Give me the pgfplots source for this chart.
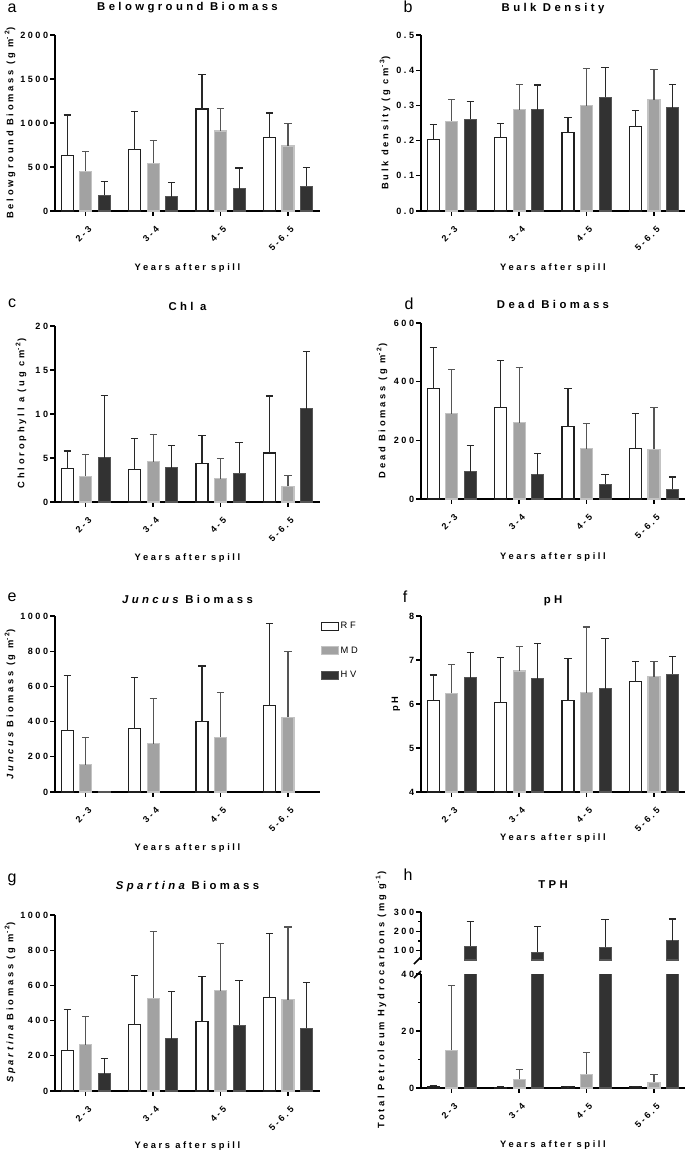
\documentclass[border=0pt]{standalone}
\usepackage{fontspec}
\setmainfont{Liberation Sans}
\newfontfamily\spf[LetterSpace=28]{Liberation Sans}
\newfontfamily\labf[LetterSpace=30]{Liberation Sans}
\newfontfamily\titf[LetterSpace=30]{Liberation Sans}
\usepackage{pgfplots}
\pgfplotsset{compat=1.18}
\definecolor{mdgray}{RGB}{162,162,162}
\definecolor{mdedge}{RGB}{195,195,195}
\definecolor{hvdark}{RGB}{50,50,50}
\definecolor{hvedge}{RGB}{85,85,85}
\definecolor{errc}{RGB}{40,40,40}
\definecolor{errmd}{RGB}{85,85,85}
\newcommand\tickfont{\spf\bfseries\fontsize{6.8}{8}\selectfont}
\newcommand\xtickfont{\spf\bfseries\fontsize{6.8}{8}\selectfont}
\newcommand\labfont{\labf\bfseries\fontsize{7}{8}\selectfont}
\newcommand\xlabfont{\spf\bfseries\fontsize{7}{8}\selectfont}
\newcommand\titfont{\titf\bfseries\fontsize{8.5}{10}\selectfont}
\newcommand\letfont{\fontsize{12}{14}\selectfont}
\newcommand\legfont{\spf\fontsize{7}{8}\selectfont}
\pgfplotsset{
  panel/.style={
    scale only axis, width=198.75pt, height=132pt,
    anchor=south west,
    xmin=-0.455, xmax=3.475, ymin=0,
    axis x line*=bottom, axis y line*=left,
    axis line style={-, line width=1.1pt, black},
    xtick={0,1,2,3}, xticklabels={2-3,3-4,4-5,5-6.5},
    tick align=outside,
    major tick length=3.5pt, minor tick length=2.2pt,
    every tick/.style={black, line width=1pt},
    xticklabel shift=7pt,
    xticklabel style={xshift=1.5pt, rotate=45, anchor=north east, font=\xtickfont, inner sep=0pt},
    yticklabel style={font=\tickfont, inner sep=1.5pt},
    /pgf/number format/assume math mode=true,
    /pgf/number format/1000 sep={},
    scaled y ticks=false,
    ybar, bar width=0.178,
  },
  errs/.style={error bars/y dir=plus, error bars/y explicit,
    error bars/error bar style={line width=0.8pt, draw=#1},
    error bars/error mark options={rotate=90, mark size=2.7pt, line width=0.8pt, draw=#1}},
  rf/.style={fill=white, draw=black!88, line width=0.8pt, bar shift=-0.275, errs=errc},
  md/.style={fill=mdgray, draw=mdedge, line width=0.8pt, bar shift=0, errs=errmd},
  hv/.style={fill=hvdark, draw=hvedge, line width=0.8pt, bar shift=0.275, errs=errc},
  hvn/.style={fill=hvdark, draw=hvedge, line width=0.8pt, bar shift=0.275},
}
\begin{document}
\begin{tikzpicture}
\useasboundingbox (0,0) rectangle (513.75pt,-865.5pt);

% ---------- a
\begin{axis}[panel, at={(55*0.75pt,-211*0.75pt)}, ymax=2000, ytick={0,500,1000,1500,2000}]
\addplot[rf] coordinates {(0,636) +- (0,455) (1,701) +- (0,432) (2,1159) +- (0,390) (3,837) +- (0,277)};
\addplot[md] coordinates {(0,451) +- (0,223) (1,542) +- (0,261) (2,909) +- (0,258) (3,739) +- (0,253)};
\addplot[hv] coordinates {(0,178) +- (0,155) (1,163) +- (0,163) (2,254) +- (0,235) (3,280) +- (0,212)};
\end{axis}
% ---------- b
\begin{axis}[panel, at={(421*0.75pt,-211*0.75pt)}, ymax=0.5, ytick={0,0.1,0.2,0.3,0.4,0.5}, yticklabels={0.0,0.1,0.2,0.3,0.4,0.5}]
\addplot[rf] coordinates {(0,0.204) +- (0,0.041) (1,0.208) +- (0,0.041) (2,0.222) +- (0,0.043) (3,0.240) +- (0,0.046)};
\addplot[md] coordinates {(0,0.255) +- (0,0.062) (1,0.288) +- (0,0.072) (2,0.299) +- (0,0.106) (3,0.316) +- (0,0.086)};
\addplot[hv] coordinates {(0,0.261) +- (0,0.051) (1,0.288) +- (0,0.070) (2,0.323) +- (0,0.084) (3,0.294) +- (0,0.066)};
\end{axis}
% ---------- c
\begin{axis}[panel, at={(55*0.75pt,-502*0.75pt)}, ymax=20, ytick={0,5,10,15,20}]
\addplot[rf] coordinates {(0,3.80) +- (0,2.00) (1,3.73) +- (0,3.46) (2,4.41) +- (0,3.16) (3,5.57) +- (0,6.48)};
\addplot[md] coordinates {(0,2.94) +- (0,2.45) (1,4.56) +- (0,3.09) (2,2.64) +- (0,2.26) (3,1.77) +- (0,1.28)};
\addplot[hv] coordinates {(0,5.05) +- (0,7.08) (1,3.88) +- (0,2.56) (2,3.28) +- (0,3.46) (3,10.62) +- (0,6.52)};
\end{axis}
% ---------- d
\begin{axis}[panel, at={(421*0.75pt,-499*0.75pt)}, ymax=600, ytick={0,200,400,600}]
\addplot[rf] coordinates {(0,377) +- (0,141) (1,311) +- (0,161) (2,247) +- (0,130) (3,172) +- (0,121)};
\addplot[md] coordinates {(0,291) +- (0,149) (1,260) +- (0,189) (2,172) +- (0,85) (3,170) +- (0,143)};
\addplot[hv] coordinates {(0,93) +- (0,91) (1,82) +- (0,73) (2,51) +- (0,34) (3,34) +- (0,41)};
\end{axis}
% ---------- e
\begin{axis}[panel, at={(55*0.75pt,-792*0.75pt)}, ymax=1000, ytick={0,200,400,600,800,1000},
  legend image code/.code={\draw[#1] (0pt,-3pt) rectangle (12.75pt,3pt);},
  legend style={at={(1.004,0.975)}, anchor=north west, draw=none, fill=none, font=\legfont,
    row sep=10.2pt, inner sep=0pt, nodes={inner sep=1pt}},
  legend cell align=left]
\addplot[rf] coordinates {(0,348) +- (0,313) (1,360) +- (0,288) (2,398) +- (0,318) (3,489) +- (0,466)};
\addplot[md] coordinates {(0,155) +- (0,157) (1,275) +- (0,257) (2,311) +- (0,253) (3,426) +- (0,375)};
\addplot[hvn] coordinates {(0,5)};
\legend{RF,MD,HV}
\end{axis}
% ---------- f
\begin{axis}[panel, at={(421*0.75pt,-792*0.75pt)}, ymin=4, ymax=8, ytick={4,5,6,7,8}]
\addplot[rf] coordinates {(0,6.09) +- (0,0.57) (1,6.04) +- (0,1.02) (2,6.08) +- (0,0.96) (3,6.51) +- (0,0.46)};
\addplot[md] coordinates {(0,6.24) +- (0,0.66) (1,6.75) +- (0,0.55) (2,6.26) +- (0,1.49) (3,6.62) +- (0,0.35)};
\addplot[hv] coordinates {(0,6.60) +- (0,0.57) (1,6.57) +- (0,0.81) (2,6.35) +- (0,1.14) (3,6.68) +- (0,0.40)};
\end{axis}
% ---------- g
\begin{axis}[panel, at={(55*0.75pt,-1091*0.75pt)}, ymax=1000, ytick={0,200,400,600,800,1000}]
\addplot[rf] coordinates {(0,232) +- (0,232) (1,377) +- (0,281) (2,396) +- (0,253) (3,530) +- (0,366)};
\addplot[md] coordinates {(0,264) +- (0,162) (1,528) +- (0,380) (2,570) +- (0,266) (3,519) +- (0,413)};
\addplot[hv] coordinates {(0,98) +- (0,87) (1,296) +- (0,272) (2,374) +- (0,256) (3,357) +- (0,258)};
\end{axis}
% ---------- h lower
\begin{axis}[panel, at={(421*0.75pt,-1088*0.75pt)}, height=85.5pt, ymax=40, ytick={0,20,40}, minor ytick={10,30}]
\addplot[rf] coordinates {(0,0.5) +- (0,0.3) (1,0.3) +- (0,0.1) (2,0.4) +- (0,0.1) (3,0.4) +- (0,0.2)};
\addplot[md] coordinates {(0,13.3) +- (0,22.7) (1,3.0) +- (0,3.4) (2,4.8) +- (0,7.7) (3,2.0) +- (0,2.6)};
\addplot[hvn] coordinates {(0,124) (1,91) (2,117) (3,152)};
\end{axis}
% ---------- h upper
\begin{axis}[panel, at={(421*0.75pt,-960*0.75pt)}, height=36pt, ymin=51.7, ymax=300,
  axis x line=none, ytick={100,200,300}, minor ytick={150,250}, xtick=\empty]
\addplot[hv] coordinates {(0,124) +- (0,126) (1,91) +- (0,133) (2,117) +- (0,145) (3,152) +- (0,112)};
\end{axis}
\draw[line width=1.1pt] (414*0.75pt,-964*0.75pt) -- (421*0.75pt,-957*0.75pt);
\draw[line width=1.1pt] (414*0.75pt,-978*0.75pt) -- (421*0.75pt,-971*0.75pt);

% ---------- titles
\node[font=\titfont] at (187.5*0.75pt,-8*0.75pt) {Belowground Biomass};
\node[font=\titfont] at (553*0.75pt,-8.5*0.75pt) {Bulk Density};
\node[font=\titfont] at (187.5*0.75pt,-306*0.75pt) {Chl a};
\node[font=\titfont] at (553*0.75pt,-304*0.75pt) {Dead Biomass};
\node[font=\titfont] at (187.5*0.75pt,-599*0.75pt) {{\itshape Juncus} Biomass};
\node[font=\titfont] at (553*0.75pt,-601*0.75pt) {pH};
\node[font=\titfont] at (187.5*0.75pt,-887*0.75pt) {{\itshape Spartina} Biomass};
\node[font=\titfont] at (553*0.75pt,-885*0.75pt) {TPH};
% ---------- x labels
\foreach \x/\y in {187.5/268, 553/268, 187.5/558, 553/557, 187.5/848, 553/838, 187.5/1146, 553/1145}
  \node[font=\xlabfont] at (\x*0.75pt,-\y*0.75pt) {Years after spill};
% ---------- y labels
\node[font=\labfont, rotate=90] at (10*0.75pt,-123*0.75pt) {Belowground Biomass (g m\textsuperscript{-2})};
\node[font=\labfont, rotate=90] at (385*0.75pt,-123*0.75pt) {Bulk density (g cm\textsuperscript{-3})};
\node[font=\labfont, rotate=90] at (21*0.75pt,-413.5*0.75pt) {Chlorophyll a (ug cm\textsuperscript{-2})};
\node[font=\labfont, rotate=90] at (382*0.75pt,-411*0.75pt) {Dead Biomass (g m\textsuperscript{-2})};
\node[font=\labfont, rotate=90] at (10*0.75pt,-704*0.75pt) {{\itshape Juncus} Biomass (g m\textsuperscript{-2})};
\node[font=\labfont, rotate=90] at (396*0.75pt,-704*0.75pt) {pH};
\node[font=\labfont, rotate=90] at (10*0.75pt,-1002.5*0.75pt) {{\itshape Spartina} Biomass (g m\textsuperscript{-2})};
\node[font=\labfont, rotate=90] at (381*0.75pt,-1000*0.75pt) {Total Petroleum Hydrocarbons (mg g\textsuperscript{-1})};
% ---------- panel letters
\foreach \l/\x/\y in {a/12/8, b/408/7, c/12/303, d/409/304, e/12/597, f/405/597, g/12/880, h/408/875}
  \node[font=\letfont, inner sep=0pt] at (\x*0.75pt,-\y*0.75pt) {\l};
\end{tikzpicture}
\end{document}
